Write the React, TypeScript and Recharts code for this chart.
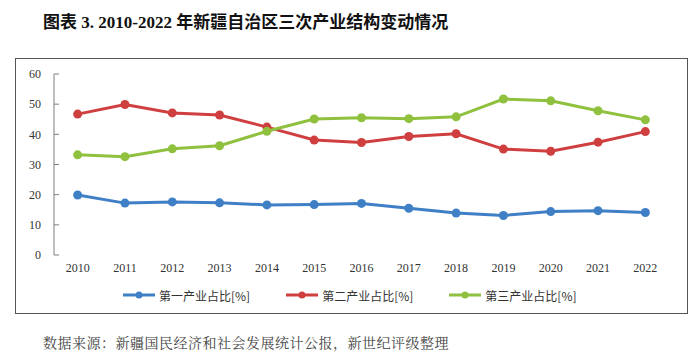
import { LineChart, Line, XAxis, YAxis } from 'recharts';

const years = ['2010', '2011', '2012', '2013', '2014', '2015', '2016', '2017', '2018', '2019', '2020', '2021', '2022'];
const primary = [19.9, 17.2, 17.6, 17.3, 16.6, 16.7, 17.1, 15.5, 13.9, 13.1, 14.4, 14.7, 14.1];
const secondary = [46.7, 49.9, 47.1, 46.4, 42.4, 38.1, 37.3, 39.3, 40.2, 35.1, 34.4, 37.4, 40.9];
const tertiary = [33.2, 32.6, 35.2, 36.2, 41.0, 45.1, 45.5, 45.2, 45.8, 51.7, 51.1, 47.8, 44.8];
const yTicks = [0, 10, 20, 30, 40, 50, 60];

const series = [
  { key: 'a', name: '第一产业占比[%]', color: '#3f7fc6' },
  { key: 'b', name: '第二产业占比[%]', color: '#d03f3f' },
  { key: 'c', name: '第三产业占比[%]', color: '#8fc13e' },
];

const data = years.map((y, i) => ({ i, year: y, a: primary[i], b: secondary[i], c: tertiary[i] }));
const bounds = years.map((_, i) => i - 0.5).concat([years.length - 0.5]);

const axisFont = { fontFamily: '"Liberation Serif", serif', fontSize: 12, fill: '#333' };

export default function App() {
  return (
    <div style={{ position: 'absolute', left: 0, top: 0, width: 700, height: 357, background: '#fff' }}>
      <div
        style={{
          position: 'absolute', left: 43, top: 8,
          fontFamily: '"Liberation Serif", "Noto Sans CJK SC", serif',
          fontWeight: 'bold', fontSize: 17, color: '#111', whiteSpace: 'nowrap',
        }}
      >
        图表 3. 2010-2022 年新疆自治区三次产业结构变动情况
      </div>
      <div
        style={{
          position: 'absolute', left: 15, top: 58, width: 671, height: 254,
          border: '1px solid #555',
        }}
      />
      <div style={{ position: 'absolute', left: 0, top: 0 }}>
        <LineChart width={700} height={357} data={data} margin={{ top: 74, right: 31, bottom: 72, left: 14 }}>
          <XAxis
            xAxisId="marks"
            type="number"
            dataKey="i"
            domain={[-0.5, years.length - 0.5]}
            ticks={bounds}
            tick={false}
            tickSize={-5}
            height={0}
            stroke="#7f7f7f"
            axisLine={{ stroke: '#7f7f7f' }}
            tickLine={{ stroke: '#7f7f7f' }}
          />
          <XAxis
            xAxisId="main"
            type="number"
            dataKey="i"
            domain={[-0.5, years.length - 0.5]}
            ticks={years.map((_, i) => i)}
            tickFormatter={(v) => years[v]}
            axisLine={false}
            tickLine={false}
            tickSize={0}
            tickMargin={8}
            height={30}
            tick={axisFont}
            interval={0}
          />
          <YAxis
            domain={[0, 60]}
            ticks={yTicks}
            width={40}
            tickSize={-5}
            tickMargin={18}
            stroke="#7f7f7f"
            tick={axisFont}
          />
          {series.map((s) => (
            <Line
              key={s.key}
              xAxisId="main"
              dataKey={s.key}
              name={s.name}
              stroke={s.color}
              strokeWidth={3}
              dot={{ r: 4.5, fill: s.color, stroke: s.color, strokeWidth: 0 }}
              isAnimationActive={false}
            />
          ))}
        </LineChart>
      </div>
      <div
        style={{
          position: 'absolute', left: 123, top: 286, display: 'flex', gap: 36,
          fontFamily: '"Noto Sans CJK SC", sans-serif', fontSize: 12, color: '#333',
        }}
      >
        {series.map((s) => (
          <div key={s.key} style={{ display: 'flex', alignItems: 'center' }}>
            <svg width={34} height={18}>
              <line x1={0} y1={9} x2={32} y2={9} stroke={s.color} strokeWidth={3} />
              <circle cx={16} cy={9} r={3.5} fill={s.color} />
            </svg>
            <span style={{ marginLeft: 2 }}>{s.name}</span>
          </div>
        ))}
      </div>
      <div
        style={{
          position: 'absolute', left: 43, top: 332, whiteSpace: 'nowrap',
          fontFamily: '"Noto Serif CJK SC", "Noto Sans CJK SC", serif', fontSize: 14, letterSpacing: 0.5, color: '#444',
        }}
      >
        数据来源：新疆国民经济和社会发展统计公报，新世纪评级整理
      </div>
    </div>
  );
}
